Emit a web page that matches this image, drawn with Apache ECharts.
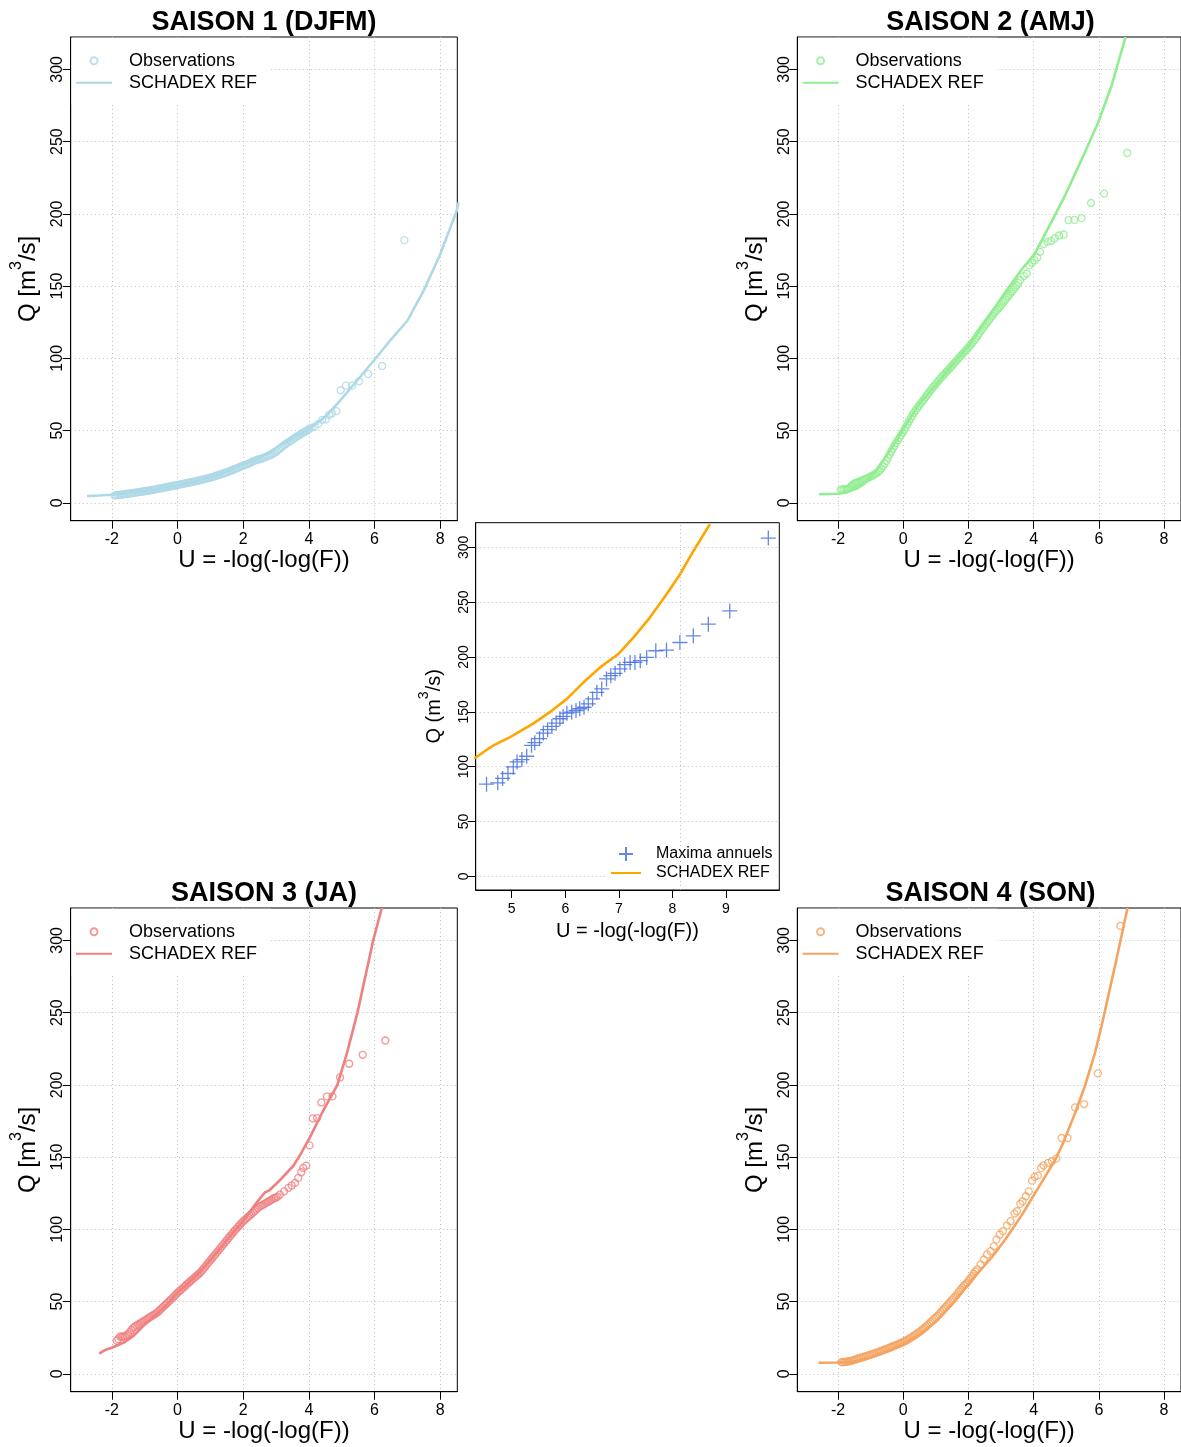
<!DOCTYPE html>
<html>
<head>
<meta charset="utf-8">
<script src="https://cdn.jsdelivr.net/npm/echarts@6/dist/echarts.min.js"></script>
<style>
  html, body { margin: 0; padding: 0; background: #fff; }
  #chart { width: 1181px; height: 1447px; }
</style>
</head>
<body>
<div id="chart"></div>
<script>
// Gumbel reduced variate U vs discharge Q, one frame per season plus the annual maxima frame.
const FONT = '"Liberation Sans", Arial, Helvetica, sans-serif';

const uTicks = [-2, 0, 2, 4, 6, 8];
const uAnnualTicks = [5, 6, 7, 8, 9];
const qTicks = [0, 50, 100, 150, 200, 250, 300];

const seasonTitles = ['SAISON 1 (DJFM)', 'SAISON 2 (AMJ)', 'SAISON 3 (JA)', 'SAISON 4 (SON)'];
const seasonColors = ['#ADD8E6', '#90EE90', '#F08080', '#F4A460'];
const annualColors = ['#4169E1', '#FFA500'];

// Season 1 (DJFM): observed values [U, Q] and SCHADEX reference curve
const djfmObs = [
  [-1.92,5.0],[-1.87,5.3],[-1.82,5.5],[-1.77,5.4],[-1.72,5.6],[-1.67,5.8],[-1.62,6.0],[-1.57,6.1],
  [-1.52,6.3],[-1.47,6.4],[-1.42,6.5],[-1.37,6.7],[-1.32,6.9],[-1.27,7.0],[-1.22,7.2],[-1.17,7.4],
  [-1.12,7.6],[-1.07,7.8],[-1.02,8.0],[-0.97,8.1],[-0.92,8.3],[-0.87,8.5],[-0.82,8.7],[-0.77,8.9],
  [-0.72,9.1],[-0.67,9.3],[-0.62,9.6],[-0.57,9.8],[-0.52,10.0],[-0.47,10.1],[-0.42,10.4],[-0.37,10.6],
  [-0.32,10.9],[-0.27,11.1],[-0.22,11.3],[-0.17,11.5],[-0.12,11.8],[-0.07,12.0],[-0.02,12.2],[0.03,12.4],
  [0.08,12.7],[0.13,12.9],[0.18,13.2],[0.23,13.4],[0.28,13.6],[0.33,13.9],[0.38,14.1],[0.43,14.3],
  [0.48,14.6],[0.53,14.8],[0.58,15.1],[0.63,15.3],[0.68,15.6],[0.73,15.9],[0.78,16.2],[0.83,16.4],
  [0.88,16.7],[0.93,17.0],[0.98,17.3],[1.03,17.7],[1.08,18.0],[1.13,18.3],[1.18,18.7],[1.23,19.1],
  [1.28,19.4],[1.33,19.8],[1.38,20.2],[1.43,20.6],[1.48,21.0],[1.53,21.4],[1.58,21.8],[1.63,22.3],
  [1.68,22.7],[1.73,23.2],[1.78,23.7],[1.83,24.1],[1.88,24.6],[1.93,25.1],[1.98,25.6],[2.03,26.0],
  [2.08,26.4],[2.13,26.8],[2.18,27.3],[2.23,27.8],[2.28,28.4],[2.33,29.0],[2.38,29.4],[2.43,29.8],
  [2.48,30.1],[2.53,30.4],[2.58,30.8],[2.63,31.2],[2.68,31.6],[2.73,32.1],[2.78,32.6],[2.83,33.0],
  [2.88,33.5],[2.93,34.2],[2.98,35.0],[3.03,35.8],[3.08,36.8],[3.13,37.7],[3.18,38.6],[3.23,39.6],
  [3.28,40.4],[3.33,41.2],[3.38,42.0],[3.43,42.7],[3.48,43.4],[3.53,44.2],[3.58,45.0],[3.63,45.8],
  [3.68,46.5],[3.73,47.2],[3.78,47.9],[3.83,48.5],[3.88,49.2],[3.93,49.8],[3.98,50.6],[4.02,51.3],
  [4.09,52.0],[4.19,52.7],[4.29,54.6],[4.41,57.4],[4.52,57.8],[4.62,60.8],[4.70,62.0],[4.84,63.4],
  [4.97,77.9],[5.13,81.1],[5.32,81.1],[5.53,84.1],[5.81,89.1],[6.23,94.7],[6.91,181.8]
];
const djfmRef = [
  [-2.75,4.6],[-2.4,5.0],[-2.0,5.6],[-1.5,6.8],[-1.0,8.2],[-0.5,10.0],[0,12.2],[0.5,14.6],
  [1.0,17.6],[1.5,21.6],[2.0,26.6],[2.5,31.0],[3.0,38.0],[3.5,44.5],[4.0,51.0],[4.5,59.5],
  [5.0,72.0],[5.5,85.5],[6.0,99.0],[6.5,113.0],[7.0,126.0],[7.5,147.0],[8.0,172.0],[8.5,202.0],[8.56,208.0]
];

// Season 2 (AMJ)
const amjObs = [
  [-1.92,9.0],[-1.87,9.2],[-1.82,9.3],[-1.77,9.4],[-1.72,9.5],[-1.67,10.0],[-1.62,10.8],[-1.58,11.8],
  [-1.54,12.6],[-1.50,13.2],[-1.46,13.7],[-1.42,14.0],[-1.37,14.4],[-1.32,14.9],[-1.27,15.4],[-1.22,15.9],
  [-1.17,16.4],[-1.12,16.9],[-1.07,17.4],[-1.02,18.0],[-0.97,18.5],[-0.92,19.1],[-0.87,19.8],[-0.82,20.5],
  [-0.77,21.4],[-0.72,22.5],[-0.67,23.8],[-0.62,25.4],[-0.57,27.1],[-0.52,29.0],[-0.47,31.2],[-0.42,33.4],
  [-0.37,35.5],[-0.32,37.5],[-0.27,39.5],[-0.22,41.4],[-0.17,43.2],[-0.12,45.0],[-0.07,46.8],[-0.02,48.6],
  [0.03,50.5],[0.08,52.5],[0.13,54.5],[0.18,56.5],[0.23,58.5],[0.28,60.4],[0.33,62.2],[0.38,63.9],
  [0.43,65.5],[0.48,67.0],[0.53,68.5],[0.58,70.0],[0.63,71.5],[0.68,73.0],[0.73,74.5],[0.78,76.0],
  [0.83,77.5],[0.88,79.0],[0.93,80.3],[0.98,81.6],[1.03,83.0],[1.08,84.4],[1.13,85.8],[1.18,87.1],
  [1.23,88.3],[1.28,89.6],[1.33,90.8],[1.38,92.0],[1.43,93.3],[1.48,94.5],[1.53,95.8],[1.58,97.0],
  [1.63,98.3],[1.68,99.5],[1.73,100.8],[1.78,102.0],[1.83,103.2],[1.88,104.5],[1.93,105.8],[1.98,107.0],
  [2.03,108.3],[2.08,109.6],[2.13,111.0],[2.18,112.5],[2.23,114.0],[2.28,115.6],[2.33,117.3],[2.38,119.0],
  [2.43,120.5],[2.48,122.0],[2.53,123.5],[2.58,125.0],[2.63,126.5],[2.68,128.0],[2.73,129.5],[2.78,131.0],
  [2.83,132.3],[2.88,133.5],[2.93,134.8],[2.98,136.0],[3.03,137.5],[3.08,139.0],[3.13,140.5],[3.18,142.0],
  [3.23,143.3],[3.28,144.6],[3.33,146.0],[3.38,147.5],[3.43,149.0],[3.48,150.5],[3.53,152.2],
  [3.59,154.1],[3.70,156.9],[3.79,158.7],[3.87,164.3],[3.95,166.1],[4.03,167.9],[4.11,169.8],[4.20,173.7],
  [4.31,179.0],[4.43,180.6],[4.54,181.3],[4.65,183.1],[4.78,185.0],[4.92,185.7],[5.07,195.6],[5.25,195.8],
  [5.47,197.0],[5.76,207.5],[6.16,214.0],[6.87,242.1]
];
const amjRef = [
  [-2.58,5.9],[-2.0,6.3],[-1.75,7.2],[-1.44,9.7],[-1.2,13.0],[-0.83,22.5],[-0.43,35.3],[0,50.7],
  [0.49,68.6],[1.0,81.4],[1.5,95.5],[2.0,108.3],[2.53,126.0],[3.14,146.0],[3.65,162.0],[4.02,172.0],
  [4.56,195.0],[4.97,213.0],[5.47,237.5],[5.98,263.2],[6.39,288.7],[6.82,322.4]
];

// Season 3 (JA)
const jaObs = [
  [-1.85,22.9],[-1.80,24.0],[-1.75,25.9],[-1.70,25.6],[-1.65,25.8],[-1.60,25.9],[-1.55,26.5],[-1.50,27.5],
  [-1.45,28.8],[-1.40,30.3],[-1.35,31.8],[-1.30,32.6],[-1.25,33.3],[-1.20,34.0],[-1.15,34.7],[-1.10,35.4],
  [-1.05,36.1],[-1.00,36.8],[-0.95,37.5],[-0.90,38.3],[-0.85,39.0],[-0.80,39.7],[-0.75,40.4],[-0.70,41.1],
  [-0.65,41.8],[-0.60,42.7],[-0.55,43.8],[-0.50,44.9],[-0.45,46.0],[-0.40,47.0],[-0.35,48.1],[-0.30,49.2],
  [-0.25,50.3],[-0.20,51.4],[-0.15,52.5],[-0.10,53.6],[-0.05,54.8],[0.00,56.0],[0.05,57.0],[0.10,58.0],
  [0.15,59.0],[0.20,60.1],[0.25,61.1],[0.30,62.2],[0.35,63.2],[0.40,64.2],[0.45,65.2],[0.50,66.2],
  [0.55,67.2],[0.60,68.1],[0.65,69.1],[0.70,70.2],[0.75,71.5],[0.80,72.9],[0.85,74.3],[0.90,75.7],
  [0.95,77.1],[1.00,78.5],[1.05,79.8],[1.10,81.2],[1.15,82.6],[1.20,84.0],[1.25,85.4],[1.30,86.8],
  [1.35,88.2],[1.40,89.6],[1.45,91.0],[1.50,92.4],[1.55,93.8],[1.60,95.2],[1.65,96.6],[1.70,98.0],
  [1.75,99.3],[1.80,100.5],[1.85,101.8],[1.90,103.0],[1.95,104.3],[2.00,105.5],[2.05,106.5],[2.10,107.6],
  [2.15,108.6],[2.20,109.6],[2.25,110.6],[2.30,111.6],[2.35,112.6],[2.40,113.6],[2.45,114.7],[2.50,115.7],
  [2.55,116.3],[2.60,116.9],[2.65,117.6],[2.70,118.3],[2.75,119.0],[2.80,119.6],[2.85,120.3],[2.90,121.0],
  [2.95,121.6],[3.00,122.0],[3.05,122.6],
  [3.12,124.0],[3.25,126.3],[3.38,128.7],[3.48,130.3],[3.58,132.1],[3.68,135.6],[3.77,139.5],[3.83,142.5],
  [3.92,144.1],[4.02,158.1],[4.12,176.8],[4.25,177.0],[4.38,187.8],[4.55,192.0],[4.72,192.0],[4.95,205.1],
  [5.23,214.6],[5.64,220.8],[6.33,230.7]
];
const jaRef = [
  [-2.38,14.0],[-2.2,16.5],[-2.0,18.0],[-1.6,22.0],[-1.35,26.0],[-1.0,34.0],[-0.63,41.5],[-0.3,48.5],
  [0,56.0],[0.35,63.2],[0.69,70.5],[1.2,84.0],[1.7,98.0],[2.0,105.5],[2.41,118.5],[2.66,125.5],
  [2.8,127.0],[3.12,134.0],[3.53,144.0],[3.7,150.0],[4.04,164.0],[4.39,180.0],[4.87,200.0],[5.16,222.0],
  [5.48,250.0],[5.96,300.0],[6.22,322.4]
];

// Season 4 (SON)
const sonObs = [
  [-1.90,8.1],[-1.85,8.0],[-1.80,8.2],[-1.75,8.3],[-1.70,8.5],[-1.65,8.7],[-1.60,9.0],[-1.55,9.3],
  [-1.50,9.6],[-1.45,10.0],[-1.40,10.4],[-1.35,10.8],[-1.30,11.1],[-1.25,11.4],[-1.20,11.8],[-1.15,12.1],
  [-1.10,12.5],[-1.05,12.9],[-1.00,13.2],[-0.95,13.6],[-0.90,14.0],[-0.85,14.4],[-0.80,14.8],[-0.75,15.2],
  [-0.70,15.6],[-0.65,16.0],[-0.60,16.5],[-0.55,16.9],[-0.50,17.3],[-0.45,17.8],[-0.40,18.2],[-0.35,18.7],
  [-0.30,19.1],[-0.25,19.6],[-0.20,20.0],[-0.15,20.5],[-0.10,21.0],[-0.05,21.5],[0.00,22.0],[0.05,22.6],
  [0.10,23.2],[0.15,23.8],[0.20,24.5],[0.25,25.2],[0.30,26.0],[0.35,26.7],[0.40,27.5],[0.45,28.2],
  [0.50,29.0],[0.55,29.9],[0.60,30.8],[0.65,31.7],[0.70,32.7],[0.75,33.7],[0.80,34.8],[0.85,35.9],
  [0.90,37.0],[0.95,38.0],[1.00,39.0],[1.05,40.1],[1.10,41.3],[1.15,42.5],[1.20,43.8],[1.25,45.0],
  [1.30,46.3],[1.35,47.5],[1.40,48.8],[1.45,50.0],[1.50,51.3],[1.55,52.5],[1.61,53.8],[1.66,55.2],
  [1.71,56.8],[1.76,58.2],[1.81,59.6],[1.86,61.0],[1.91,61.9],[1.96,63.0],[2.01,64.5],[2.06,66.0],
  [2.11,67.6],[2.16,69.2],[2.21,70.8],[2.27,72.2],[2.37,75.7],[2.47,79.1],[2.57,82.6],[2.68,84.9],
  [2.78,88.3],[2.86,93.0],[2.96,96.4],[3.06,98.7],[3.18,102.6],[3.29,105.6],[3.41,110.9],[3.49,112.5],
  [3.59,117.6],[3.66,119.4],[3.76,122.9],[3.85,126.3],[3.95,133.7],[4.03,136.3],[4.13,137.2],[4.23,142.5],
  [4.30,144.3],[4.44,146.0],[4.56,147.1],[4.70,149.1],[4.86,163.2],[5.04,163.2],[5.27,184.4],[5.55,186.7],
  [5.97,207.9],[6.66,310.0]
];
const sonRef = [
  [-2.6,7.6],[-2.0,7.8],[-1.5,8.5],[-1.0,11.5],[-0.5,15.5],[0,20.5],[0.5,27.0],[1.0,36.0],
  [1.5,48.0],[1.71,54.0],[2.22,68.0],[2.73,81.0],[3.13,93.0],[3.64,110.0],[4.15,129.0],[4.66,148.0],
  [4.91,160.0],[5.27,180.5],[5.57,199.0],[5.88,222.0],[6.08,240.4],[6.49,281.8],[6.88,322.4]
];

// Annual maxima and the SCHADEX reference for annual maxima
const annualMax = [
  [4.53,84.1],[4.74,85.3],[4.83,89.3],[4.93,93.8],[5.03,99.8],[5.10,104.3],[5.19,106.5],[5.28,109.5],
  [5.37,119.5],[5.43,121.9],[5.52,125.5],[5.59,130.6],[5.67,133.7],[5.75,136.7],[5.83,139.7],[5.90,143.7],
  [5.96,145.8],[6.03,148.8],[6.12,149.7],[6.20,151.2],[6.27,152.8],[6.35,154.2],[6.43,157.3],[6.51,161.8],
  [6.59,167.8],[6.68,170.9],[6.77,180.0],[6.85,183.0],[6.93,185.1],[7.02,189.1],[7.11,193.0],[7.21,195.0],
  [7.30,195.0],[7.40,196.6],[7.52,199.6],[7.69,205.7],[7.89,206.3],[8.14,213.2],[8.39,219.3],[8.67,229.9],
  [9.07,242.0],[9.79,308.4]
];
const annualRef = [
  [4.30,107.5],[4.66,119.5],[4.97,127.0],[5.40,139.2],[5.71,149.7],[6.03,161.8],[6.34,176.9],[6.65,190.5],
  [6.99,202.7],[7.27,217.7],[7.58,235.9],[7.89,257.1],[8.14,275.2],[8.39,296.4],[8.70,321.1]
];
// dotted vertical reference in the annual frame
const annualMarkU = [8.14];

// ---- frames (pixel boxes) and axis ranges ----
const seasonFrames = [
  { left: 70.7,  top: 37,  width: 386.6, height: 483.7 },
  { left: 797.3, top: 37,  width: 386.6, height: 483.7 },
  { left: 70.7,  top: 908, width: 386.6, height: 483.7 },
  { left: 797.3, top: 908, width: 386.6, height: 483.7 }
];
const annualFrame = { left: 475.7, top: 522.7, width: 303.6, height: 367.3 };
const uRange = [-3.25, 8.52];
const uAnnualRange = [4.328, 9.995];
const qRange = [-12.4, 322.4];

const seasonObs = [djfmObs, amjObs, jaObs, sonObs];
const seasonRef = [djfmRef, amjRef, jaRef, sonRef];
const seasonKeys = ['DJFM', 'AMJ', 'JA', 'SON'];

const GRID_LINE = { color: '#BEBEBE', type: [1, 3], width: 1 };

function makeXAxis(idx, range, ticks, labelSize, nameSize, nameGap, labelMargin, showGrid) {
  return {
    type: 'value', gridIndex: idx, min: range[0], max: range[1], position: 'bottom',
    name: 'U = -log(-log(F))', nameLocation: 'middle', nameGap: nameGap,
    nameTextStyle: { fontSize: nameSize, color: '#000', fontFamily: FONT },
    axisLine: { show: true, onZero: false, lineStyle: { color: '#000', width: 1 } },
    axisTick: { show: true, inside: false, length: 8, customValues: ticks, lineStyle: { color: '#000', width: 1 } },
    axisLabel: { show: true, customValues: ticks, fontSize: labelSize, color: '#000', margin: labelMargin,
                 fontFamily: FONT, formatter: v => String(v) },
    splitLine: { show: showGrid, lineStyle: GRID_LINE }
  };
}

function makeYAxis(idx, ticks, labelSize, nameRich, nameGap, labelMargin, mainSize, supSize, lh) {
  return {
    type: 'value', gridIndex: idx, min: qRange[0], max: qRange[1], position: 'left',
    name: nameRich, nameLocation: 'middle', nameGap: nameGap, nameRotate: 90,
    nameTextStyle: {
      color: '#000', fontFamily: FONT, fontSize: mainSize,
      rich: {
        t: { fontSize: mainSize, lineHeight: lh, verticalAlign: 'bottom', color: '#000', fontFamily: FONT },
        s: { fontSize: supSize, lineHeight: supSize, verticalAlign: 'top', color: '#000', fontFamily: FONT }
      }
    },
    axisLine: { show: true, onZero: false, lineStyle: { color: '#000', width: 1 } },
    axisTick: { show: true, inside: false, length: 8, customValues: ticks, lineStyle: { color: '#000', width: 1 } },
    axisLabel: { show: true, customValues: ticks, rotate: 90, fontSize: labelSize, color: '#000',
                 margin: labelMargin, fontFamily: FONT, formatter: v => String(v) },
    splitLine: { show: true, lineStyle: GRID_LINE }
  };
}

const grids = [];
const xAxes = [];
const yAxes = [];
const series = [];
const legends = [];
const titles = [];

seasonFrames.forEach((f, i) => {
  grids.push(Object.assign({ show: true, borderColor: '#000', borderWidth: 1, backgroundColor: 'transparent' }, f));
  xAxes.push(makeXAxis(i, uRange, uTicks, 16, 24, 28, 11, true));
  yAxes.push(makeYAxis(i, qTicks, 16, '{t|Q [m}{s|3}{t|/s]}', 30, 5, 24, 16, 32));
  const c = seasonColors[i];
  const obsName = 'Observations@' + seasonKeys[i];
  const refName = 'SCHADEX REF@' + seasonKeys[i];
  series.push({
    type: 'scatter', name: obsName, xAxisIndex: i, yAxisIndex: i, data: seasonObs[i],
    symbol: 'circle', symbolSize: 7, silent: true, z: 2,
    itemStyle: { color: 'rgba(0,0,0,0)', borderColor: c, borderWidth: 1.3 }
  });
  series.push({
    type: 'line', name: refName, xAxisIndex: i, yAxisIndex: i, data: seasonRef[i],
    symbol: 'none', showSymbol: false, silent: true, z: 3, clip: true,
    lineStyle: { color: c, width: 2.6 }, itemStyle: { color: c }
  });
  legends.push({
    show: true, orient: 'vertical', left: f.left + 0.9, top: f.top + 0.8,
    padding: [14, 14, 13, 3.4], backgroundColor: '#fff', selectedMode: false,
    itemWidth: 36, itemHeight: 7, itemGap: 4, align: 'left',
    data: [obsName, { name: refName, itemStyle: { opacity: 0 } }],
    formatter: n => n.split('@')[0],
    textStyle: { fontSize: 18, lineHeight: 18, color: '#000', fontFamily: FONT, padding: [0, 0, 0, 12] }
  });
  titles.push({
    text: seasonTitles[i], left: f.left + f.width / 2, top: f.top - 28, textAlign: 'center', padding: 0,
    textStyle: { fontSize: 27, fontWeight: 'bold', color: '#000', fontFamily: FONT }
  });
});

// annual maxima frame
grids.push(Object.assign({ show: true, borderColor: '#000', borderWidth: 1, backgroundColor: 'transparent' }, annualFrame));
xAxes.push(makeXAxis(4, uAnnualRange, uAnnualTicks, 14, 20, 31, 12, false));
yAxes.push(makeYAxis(4, qTicks, 14, '{t|Q (m}{s|3}{t|/s)}', 31.5, 5, 20, 14, 27));
series.push({
  type: 'scatter', name: 'Maxima annuels', xAxisIndex: 4, yAxisIndex: 4, data: annualMax,
  symbol: 'path://M7,0L7,14M0,7L14,7', symbolSize: 15, silent: true, z: 2,
  itemStyle: { color: 'rgba(0,0,0,0)', borderColor: annualColors[0], borderWidth: 1.3 },
  markLine: {
    silent: true, symbol: 'none', animation: false, label: { show: false },
    lineStyle: GRID_LINE, emphasis: { disabled: true },
    data: annualMarkU.map(u => ({ xAxis: u }))
  }
});
series.push({
  type: 'line', name: 'SCHADEX REF', xAxisIndex: 4, yAxisIndex: 4, data: annualRef,
  symbol: 'none', showSymbol: false, silent: true, z: 3, clip: true,
  lineStyle: { color: annualColors[1], width: 2.6 }, itemStyle: { color: annualColors[1] }
});
legends.push({
  show: true, orient: 'vertical', left: 605, top: 834,
  padding: [12, 4, 8, 5], backgroundColor: '#fff', selectedMode: false,
  itemWidth: 30, itemHeight: 14, itemGap: 3, align: 'left',
  data: ['Maxima annuels', { name: 'SCHADEX REF', itemStyle: { opacity: 0 } }],
  textStyle: { fontSize: 16, lineHeight: 16, color: '#000', fontFamily: FONT, padding: [0, 0, 0, 10] }
});

const chart = echarts.init(document.getElementById('chart'), null, { renderer: 'canvas' });
chart.setOption({
  animation: false,
  backgroundColor: '#fff',
  textStyle: { fontFamily: FONT },
  title: titles,
  legend: legends,
  grid: grids,
  xAxis: xAxes,
  yAxis: yAxes,
  series: series
});
</script>
</body>
</html>
